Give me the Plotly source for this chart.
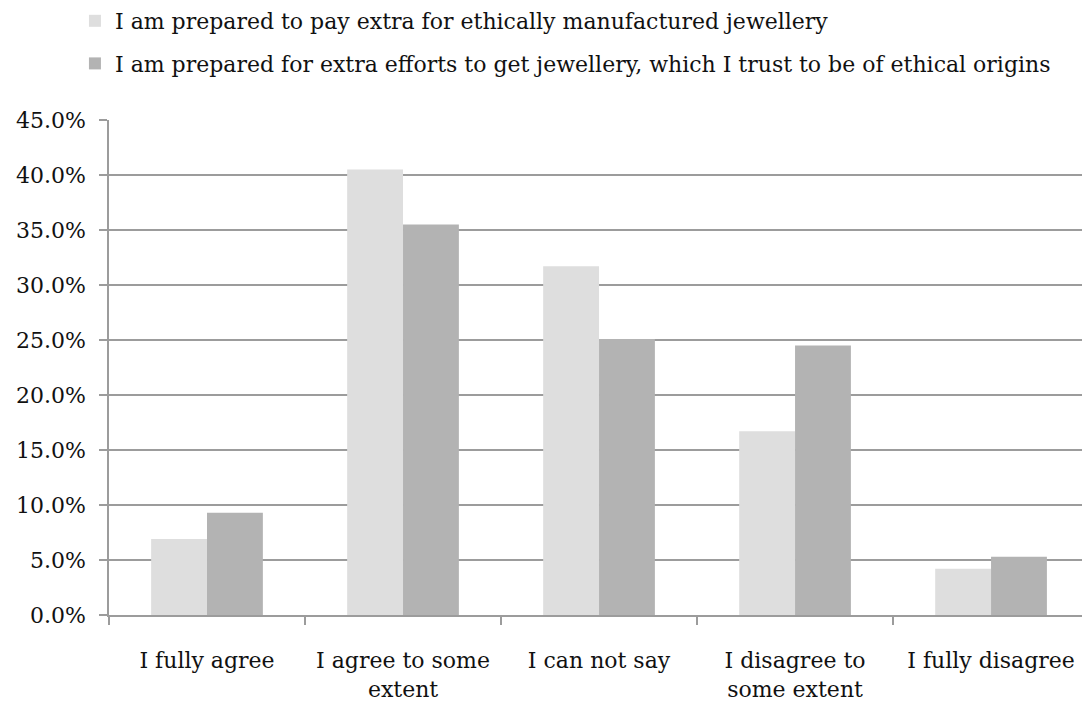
import plotly.graph_objects as go

categories = [
    "I fully agree",
    "I agree to some<br>extent",
    "I can not say",
    "I disagree to<br>some extent",
    "I fully disagree",
]
series_names = [
    "I am prepared to pay extra for ethically manufactured jewellery",
    "I am prepared for extra efforts to get jewellery, which I trust to be of ethical origins",
]
pay_extra = [6.9, 40.5, 31.7, 16.7, 4.2]
extra_efforts = [9.3, 35.5, 25.1, 24.5, 5.3]
y_ticks = [0, 5, 10, 15, 20, 25, 30, 35, 40, 45]
y_tick_labels = ["0.0%", "5.0%", "10.0%", "15.0%", "20.0%",
                 "25.0%", "30.0%", "35.0%", "40.0%", "45.0%"]

FONT = "DejaVu Serif"
FONT_SIZE = 22
AXIS_GREY = "#9c9c9c"

fig = go.Figure()
fig.add_trace(go.Bar(
    x=categories, y=pay_extra, name=series_names[0],
    marker=dict(color="#dedede", line=dict(width=0)),
    legendgroup="a",
))
fig.add_trace(go.Bar(
    x=categories, y=extra_efforts, name=series_names[1],
    marker=dict(color="#b3b3b3", line=dict(width=0)),
    legendgroup="b",
))

fig.update_layout(
    width=1082, height=702,
    margin=dict(l=109, r=0, t=116, b=87, pad=0),
    paper_bgcolor="white", plot_bgcolor="white",
    barmode="group", bargap=0.43, bargroupgap=0,
    font=dict(family=FONT, size=FONT_SIZE, color="#111111"),
    legend=dict(
        x=-0.035, xanchor="left", y=1.243, yanchor="top",
        orientation="v", traceorder="grouped", tracegroupgap=11,
        font=dict(family=FONT, size=FONT_SIZE, color="#111111"),
        itemwidth=30, bgcolor="rgba(0,0,0,0)",
    ),
    xaxis=dict(
        type="category", range=[-0.5, 4.464],
        showline=True, linecolor=AXIS_GREY, linewidth=1.5,
        ticks="outside", tickson="boundaries", ticklen=8,
        tickcolor=AXIS_GREY, tickwidth=1.5,
        showgrid=False, zeroline=False,
        tickfont=dict(family=FONT, size=FONT_SIZE),
        ticklabelstandoff=25,
    ),
    yaxis=dict(
        range=[0, 45], tickvals=y_ticks, ticktext=y_tick_labels,
        showline=True, linecolor=AXIS_GREY, linewidth=1.5,
        ticks="outside", ticklen=8, tickcolor=AXIS_GREY, tickwidth=1.5,
        showgrid=True, gridcolor=AXIS_GREY, gridwidth=1.5,
        zeroline=False,
        tickfont=dict(family=FONT, size=FONT_SIZE),
        ticklabelstandoff=9,
    ),
)

fig.write_html("out.html")
